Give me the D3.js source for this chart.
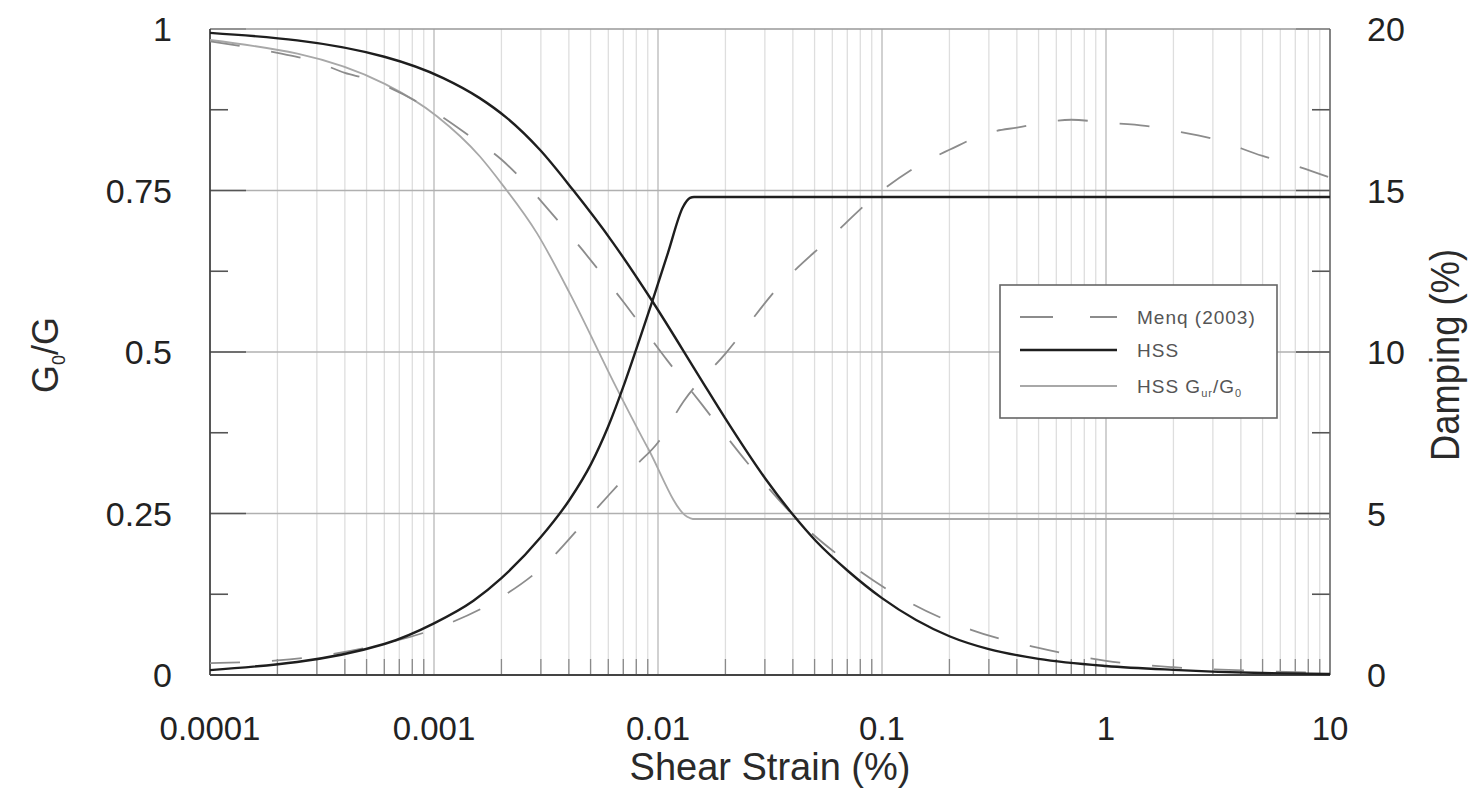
<!DOCTYPE html>
<html><head><meta charset="utf-8">
<script src="https://cdn.jsdelivr.net/npm/d3@7"></script>
<style>body{margin:0;background:#fff}svg{display:block}text{font-family:Arial,"Liberation Sans",sans-serif}</style>
</head><body>
<svg id="c" width="1481" height="794"></svg>
<script>
// ---- data ----
const hssGStrain = [1e-4,6e-4,1.1e-3,1.6e-3,2.12e-3,2.97e-3,4.17e-3,6.3e-3,9.5e-3,1.54e-2,1.99e-2,3e-2,4.05e-2,5.08e-2,7.05e-2,0.1,0.2,0.3,0.5,1,2,5,10];
const hssG = [0.994,0.957,0.924,0.893,0.862,0.813,0.751,0.669,0.577,0.460,0.398,0.305,0.246,0.207,0.161,0.119,0.060,0.040,0.025,0.014,0.008,0.003,0.0015];

const hssGurStrain = [1e-4,6.03e-4,1.03e-3,1.6e-3,2.03e-3,2.88e-3,4.05e-3,6.56e-3,9.02e-3,1.35e-2,1.43e-2,10];
const hssGur = [0.983,0.915,0.865,0.803,0.758,0.684,0.590,0.443,0.351,0.245,0.2415,0.2415];

const hssDStrain = [1e-4,6e-4,1e-3,1.5e-3,2e-3,3e-3,4.05e-3,5.02e-3,5.98e-3,7.12e-3,8.31e-3,9.5e-3,1.108e-2,1.293e-2,1.39e-2,1.448e-2,10];
const hssD = [0.15,0.96,1.6,2.3,3.0,4.27,5.45,6.53,7.68,9.07,10.43,11.64,13.07,14.49,14.77,14.8,14.8];

const menqGStrain = [1e-4,2e-4,3e-4,4e-4,5e-4,1e-3,1.5e-3,2e-3,2.5e-3,3e-3,4.6e-3,7.1e-3,1.1e-2,1.56e-2,2.5e-2,4.5e-2,7e-2,0.13,0.25,0.5,1,2,5,10];
const menqG = [0.981,0.963,0.949,0.932,0.923,0.872,0.83,0.798,0.765,0.734,0.658,0.575,0.487,0.42,0.329,0.23,0.175,0.114,0.07,0.042,0.022,0.012,0.006,0.003];

const menqDStrain = [1e-4,2e-4,5e-4,1e-3,2e-3,3e-3,5e-3,8e-3,1e-2,1.3e-2,2e-2,3.5e-2,5.8e-2,0.1,0.15,0.2,0.3,0.4,0.7,1,1.5,2,3,5,7,10];
const menqD = [0.37,0.45,0.85,1.42,2.41,3.3,4.95,6.5,7.2,8.47,9.95,12.06,13.5,15.0,15.83,16.26,16.79,16.95,17.19,17.1,17.0,16.85,16.6,16.07,15.77,15.4];

const xTickValues = [1e-4,1e-3,1e-2,1e-1,1,10];
const xTickLabels = ["0.0001","0.001","0.01","0.1","1","10"];
const leftTickValues = [0,0.25,0.5,0.75,1];
const leftTickLabels = ["0","0.25","0.5","0.75","1"];
const rightTickValues = [0,5,10,15,20];
const rightTickLabels = ["0","5","10","15","20"];
const legendLabels = ["Menq (2003)","HSS","HSS G"];

// ---- layout ----
const L=210,R=1330,T=29,B=675;
const svg=d3.select("#c");
const x=d3.scaleLog().domain([1e-4,10]).range([L,R]);
const yL=d3.scaleLinear().domain([0,1]).range([B,T]);
const yR=d3.scaleLinear().domain([0,20]).range([B,T]);

// minor vertical grid
const minor=[];
for(let e=-4;e<1;e++){for(let m=2;m<=9;m++){minor.push(m*Math.pow(10,e));}}
svg.append("g").selectAll("line").data(minor).join("line")
 .attr("x1",d=>x(d)).attr("x2",d=>x(d)).attr("y1",T).attr("y2",B)
 .attr("stroke","#dedede").attr("stroke-width",1.3);
svg.append("g").selectAll("line").data(xTickValues.slice(1,5)).join("line")
 .attr("x1",d=>x(d)).attr("x2",d=>x(d)).attr("y1",T).attr("y2",B)
 .attr("stroke","#c6c6c6").attr("stroke-width",1.6);
// horizontal grid
svg.append("g").selectAll("line").data([0.25,0.5,0.75]).join("line")
 .attr("x1",L).attr("x2",R).attr("y1",d=>yL(d)).attr("y2",d=>yL(d))
 .attr("stroke","#b0b0b0").attr("stroke-width",1.6);

// bottom inner ticks
svg.append("g").selectAll("line").data(minor).join("line")
 .attr("x1",d=>x(d)).attr("x2",d=>x(d)).attr("y1",B).attr("y2",B-16)
 .attr("stroke","#8a8a8a").attr("stroke-width",1.3);
// left/right ticks
const majT=[0,0.25,0.5,0.75,1], minT=[0.125,0.375,0.625,0.875];
const tk=svg.append("g").attr("stroke","#555").attr("stroke-width",1.6);
tk.selectAll(".lm").data(majT).join("line").attr("x1",L).attr("x2",L+36).attr("y1",d=>yL(d)).attr("y2",d=>yL(d));
tk.selectAll(".ln").data(minT).join("line").attr("x1",L).attr("x2",L+18).attr("y1",d=>yL(d)).attr("y2",d=>yL(d));
tk.selectAll(".rm").data(majT).join("line").attr("x1",R).attr("x2",R-34).attr("y1",d=>yL(d)).attr("y2",d=>yL(d));
tk.selectAll(".rn").data(minT).join("line").attr("x1",R).attr("x2",R-18).attr("y1",d=>yL(d)).attr("y2",d=>yL(d));

// frame
svg.append("line").attr("x1",L).attr("x2",R).attr("y1",T).attr("y2",T).attr("stroke","#999").attr("stroke-width",1.5);
svg.append("line").attr("x1",R).attr("x2",R).attr("y1",T).attr("y2",B).attr("stroke","#666").attr("stroke-width",1.6);
svg.append("line").attr("x1",L).attr("x2",L).attr("y1",T).attr("y2",B).attr("stroke","#444").attr("stroke-width",1.8);
svg.append("line").attr("x1",L).attr("x2",R).attr("y1",B).attr("y2",B).attr("stroke","#444").attr("stroke-width",1.8);

// lines
svg.append("clipPath").attr("id","cp").append("rect").attr("x",L).attr("y",T-3).attr("width",R-L+1).attr("height",B-T+6);
const g=svg.append("g").attr("clip-path","url(#cp)");
function draw(xs,ys,yS,stroke,w,dash){
  const pts=xs.map((s,i)=>[s,ys[i]]);
  const line=d3.line().x(d=>x(d[0])).y(d=>yS(d[1])).curve(d3.curveMonotoneX);
  const p=g.append("path").datum(pts).attr("d",line).attr("fill","none").attr("stroke",stroke).attr("stroke-width",w).attr("stroke-linejoin","round");
  if(dash)p.attr("stroke-dasharray",dash);
}
draw(hssGurStrain,hssGur,yL,"#a8a8a8",1.8);
draw(menqGStrain,menqG,yL,"#8c8c8c",1.8,"30,32");
draw(menqDStrain,menqD,yR,"#8c8c8c",1.8,"30,32");
draw(hssGStrain,hssG,yL,"#1e1e1e",2.4);
draw(hssDStrain,hssD,yR,"#1e1e1e",2.4);

// tick labels
svg.append("g").selectAll("text").data(xTickValues).join("text")
 .attr("x",d=>x(d)).attr("y",740).attr("text-anchor","middle").attr("font-size",33).attr("fill","#222")
 .text((d,i)=>xTickLabels[i]);
svg.append("g").selectAll("text").data(leftTickValues).join("text")
 .attr("x",172).attr("y",d=>yL(d)+12).attr("text-anchor","end").attr("font-size",34).attr("fill","#222")
 .text((d,i)=>leftTickLabels[i]);
svg.append("g").selectAll("text").data(rightTickValues).join("text")
 .attr("x",1367).attr("y",d=>yR(d)+12).attr("text-anchor","start").attr("font-size",34).attr("fill","#222")
 .text((d,i)=>rightTickLabels[i]);

// axis titles
svg.append("text").attr("x",770).attr("y",780).attr("text-anchor","middle").attr("font-size",38).attr("fill","#2a2a2a").text("Shear Strain (%)");
const yt=svg.append("text").attr("transform","translate(58,355) rotate(-90)").attr("text-anchor","middle").attr("font-size",36).attr("fill","#2a2a2a");
yt.append("tspan").text("G");
yt.append("tspan").attr("font-size",18).attr("dy",7).text("0");
yt.append("tspan").attr("dy",-7).text("/G");
svg.append("text").attr("transform","translate(1459,355) rotate(-90)").attr("text-anchor","middle").attr("font-size",40)
 .attr("textLength",212).attr("lengthAdjust","spacingAndGlyphs").attr("fill","#2a2a2a").text("Damping (%)");

// legend
const lg=svg.append("g");
lg.append("rect").attr("x",1000).attr("y",285).attr("width",277).attr("height",133).attr("fill","#fff").attr("stroke","#666").attr("stroke-width",1.6);
const ly=[317,350,386];
const lstyle=[["#8c8c8c",1.8,"33,37"],["#1e1e1e",2.4,null],["#a8a8a8",1.8,null]];
ly.forEach((yy,i)=>{
  const l=lg.append("line").attr("x1",1020).attr("x2",1117).attr("y1",yy).attr("y2",yy)
   .attr("stroke",lstyle[i][0]).attr("stroke-width",lstyle[i][1]);
  if(lstyle[i][2])l.attr("stroke-dasharray",lstyle[i][2]);
  const t=lg.append("text").attr("x",1137).attr("y",yy+7).attr("font-size",19).attr("letter-spacing",1).attr("fill","#555");
  if(i<2){t.text(legendLabels[i]);}
  else{
    t.append("tspan").text(legendLabels[i]);
    t.append("tspan").attr("font-size",11).attr("dy",4).text("ur");
    t.append("tspan").attr("font-size",19).attr("dy",-4).text("/G");
    t.append("tspan").attr("font-size",11).attr("dy",4).text("0");
  }
});
</script>
</body></html>
